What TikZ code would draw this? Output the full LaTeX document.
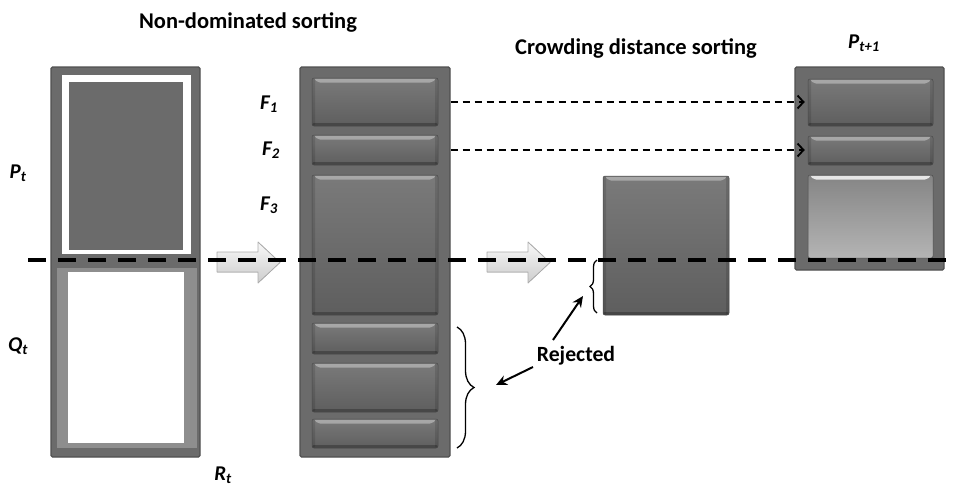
\documentclass[tikz,border=0pt]{standalone}
\usepackage{fontspec}
\setmainfont{Carlito}
\usetikzlibrary{arrows.meta,decorations.pathreplacing,calc,fit}
\definecolor{colfill}{HTML}{6B6B6B}
\definecolor{colline}{HTML}{505050}
\definecolor{bartop}{HTML}{7A7A7A}
\definecolor{barmid}{HTML}{6A6A6A}
\definecolor{barbot}{HTML}{5E5E5E}
\definecolor{barline}{HTML}{4A4A4A}
\definecolor{lighttop}{HTML}{858585}
\definecolor{lightbot}{HTML}{B4B4B4}
\definecolor{qband}{HTML}{8E8E8E}
\begin{document}
\begin{tikzpicture}[x=1pt,y=-1pt,
  col/.style={inner sep=0pt, fill=colfill, draw=colline, line width=1.2pt, rounded corners=1.5pt},
  bar/.style={inner sep=0pt, draw=barline, line width=0.5pt, rounded corners=2pt,
    top color=bartop, middle color=barmid, bottom color=barbot,
    path picture={
      \fill[white,opacity=0.35] ([xshift=2pt,yshift=-0.8pt]path picture bounding box.north west) -- ([xshift=-2pt,yshift=-0.8pt]path picture bounding box.north east) -- ([xshift=-6pt,yshift=-4.5pt]path picture bounding box.north east) -- ([xshift=6pt,yshift=-4.5pt]path picture bounding box.north west) -- cycle;
      \fill[black,opacity=0.25] (path picture bounding box.south west) rectangle ([yshift=3pt]path picture bounding box.south east);
      \fill[black,opacity=0.12] (path picture bounding box.south west) rectangle ([xshift=3pt]path picture bounding box.north west);
      \fill[black,opacity=0.12] (path picture bounding box.south east) rectangle ([xshift=-3pt]path picture bounding box.north east);
    }},
  lightbar/.style={bar, top color=lighttop, middle color=gray!58, bottom color=lightbot,
    path picture={
      \fill[white,opacity=0.8] ([xshift=2pt,yshift=-0.8pt]path picture bounding box.north west) -- ([xshift=-2pt,yshift=-0.8pt]path picture bounding box.north east) -- ([xshift=-6pt,yshift=-4.5pt]path picture bounding box.north east) -- ([xshift=6pt,yshift=-4.5pt]path picture bounding box.north west) -- cycle;
    }},
  garrow/.style={top color=gray!5, bottom color=gray!40, draw=gray!65, line width=0.8pt, line join=round},
  bigdash/.style={line width=4.8pt, dash pattern=on 18pt off 12pt},
  fdash/.style={line width=1.7pt, dash pattern=on 7pt off 5pt, -{Straight Barb[length=6pt,width=13pt,line width=1.8pt]}},
  rej/.style={line width=2pt, -{Stealth[length=11pt,width=10pt]}},
  brc/.style={decorate, line width=1.3pt},
  lab/.style={font=\fontsize{21}{24}\selectfont\bfseries\itshape, inner sep=0pt},
  ttl/.style={font=\fontsize{22.5}{26}\selectfont\bfseries, inner sep=0pt}
]
\useasboundingbox (0,0) rectangle (953,488);

% ---- left column R_t
\node[col, fit={(51,67) (200,457)}] (rt) {};
\node[inner sep=0pt, fill=white, fit={(62,75) (191,254)}] (ptframe) {};
\node[inner sep=0pt, fill=colfill, fit={(69,82) (183,250)}] (pt) {};
\node[inner sep=0pt, fill=qband, fit={(57,268) (197,448)}] (qtband) {};
\node[inner sep=0pt, fill=white, fit={(68,272) (184,443)}] (qt) {};

% ---- middle column
\node[col, fit={(300,67) (450,457)}] (mid) {};
\node[bar, fit={(312,78) (438,126)}] (f1) {};
\node[bar, fit={(312,135) (438,165)}] (f2) {};
\node[bar, fit={(312,175) (438,315)}] (f3) {};
\node[bar, fit={(312,323) (438,354)}] (f4) {};
\node[bar, fit={(312,363) (438,412)}] (f5) {};
\node[bar, fit={(312,419) (438,448)}] (f6) {};

% ---- crowding distance box
\node[bar, fit={(603,176) (729,315)}] (cd) {};

% ---- P_{t+1} column
\node[col, fit={(795,67) (944,270)}] (pnext) {};
\node[bar, fit={(808,79) (933,126)}] (p1) {};
\node[bar, fit={(808,136) (933,165)}] (p2) {};
\node[lightbar, fit={(808,175) (933,258)}] (p3) {};

% ---- big grey arrows
\filldraw[garrow] (217,252) -- (258,252) -- (258,242) -- (280,262.5) -- (258,283) -- (258,272) -- (217,272) -- cycle;
\filldraw[garrow] (487,252) -- (528,252) -- (528,242) -- (550,262.5) -- (528,283) -- (528,272) -- (487,272) -- cycle;

% ---- dashed arrows F1, F2
\draw[fdash] (mid.east |- f1.center) -- ([xshift=-3pt]p1.west |- f1.center);
\draw[fdash] (mid.east |- f2.center) -- ([xshift=-3pt]p2.west |- f2.center);

% ---- thick dashed cut line
\coordinate (cutl) at (28,260);
\coordinate (cutr) at (953,260);
\draw[bigdash] (cutl) -- (cutr);

% ---- braces
\draw[brc, decoration={brace, amplitude=17pt}] (457,327) -- (457,448);
\draw[brc, decoration={brace, amplitude=7pt}] (597,313) -- (597,260);

% ---- labels
\node[ttl] (t1) at (248,22) {Non-dominated sorting};
\node[ttl] (t2) at (636,48) {Crowding distance sorting};
\node[lab] (lp1) at (864,43) {P\textsubscript{t+1}};
\node[lab] (lpt) at (18,173) {P\textsubscript{t}};
\node[lab] (lqt) at (18,346) {Q\textsubscript{t}};
\node[lab] (lrt) at (223,475) {R\textsubscript{t}};
\node[lab] (lf1) at (269,104) {F\textsubscript{1}};
\node[lab] (lf2) at (271,150) {F\textsubscript{2}};
\node[lab] (lf3) at (269,205) {F\textsubscript{3}};

\node[ttl, font=\fontsize{21.7}{25}\selectfont\bfseries] (rejected) at (576,356) {Rejected};
\coordinate (r1s) at (553,340);
\coordinate (r1e) at (583,296);
\coordinate (r2s) at (533,367);
\coordinate (r2e) at (496,385);
\draw[rej] (r1s) -- (r1e);
\draw[rej] (r2s) -- (r2e);
\end{tikzpicture}
\end{document}
